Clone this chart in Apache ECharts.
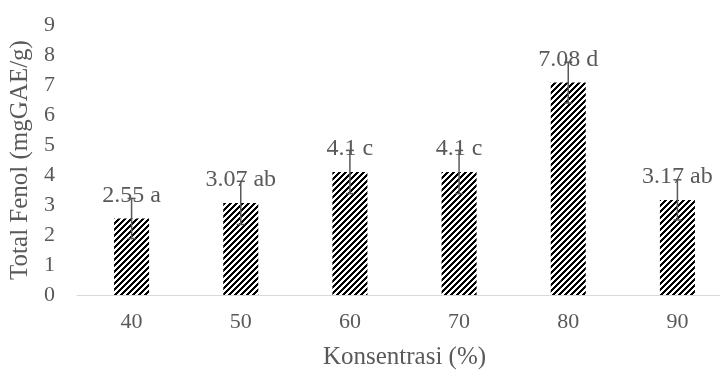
<!DOCTYPE html>
<html>
<head>
<meta charset="utf-8">
<script src="https://cdn.jsdelivr.net/npm/echarts@6/dist/echarts.min.js"></script>
<style>
  html, body { margin: 0; padding: 0; background: #fff; }
  #chart { width: 720px; height: 379px; }
</style>
</head>
<body>
<div id="chart"></div>
<script>
// Ethanol concentration (%) and total phenol content (mg GAE/g)
const categories = ['40', '50', '60', '70', '80', '90'];
const totalFenol = [2.55, 3.07, 4.1, 4.1, 7.08, 3.17];
const errorSize = [0.67, 0.72, 0.72, 0.72, 0.68, 0.67];
const notation = ['a', 'ab', 'c', 'c', 'd', 'ab'];
const yTicks = { min: 0, max: 9, interval: 1 };

const FONT = 'Liberation Serif, Times New Roman, serif';
const TEXT = '#595959';

// Upward-diagonal hatch fill
function hatch() {
  const size = 6;
  const c = document.createElement('canvas');
  c.width = size; c.height = size;
  const ctx = c.getContext('2d');
  const img = ctx.createImageData(size, size);
  for (let y = 0; y < size; y++) {
    for (let x = 0; x < size; x++) {
      const k = (y * size + x) * 4;
      const dark = ((x + y) % size) < 3;
      const v = dark ? 0 : 255;
      img.data[k] = v; img.data[k + 1] = v; img.data[k + 2] = v; img.data[k + 3] = 255;
    }
  }
  ctx.putImageData(img, 0, 0);
  return { image: c, repeat: 'repeat' };
}

const chart = echarts.init(document.getElementById('chart'), null, { renderer: 'canvas' });

chart.setOption({
  animation: false,
  backgroundColor: '#ffffff',
  textStyle: { fontFamily: FONT },
  grid: { left: 77, top: 25, bottom: 84, width: 655, containLabel: false, outerBoundsMode: 'none' },
  xAxis: {
    type: 'category',
    data: categories,
    name: 'Konsentrasi (%)',
    nameLocation: 'middle',
    nameGap: 50,
    nameTextStyle: { color: TEXT, fontSize: 25, fontFamily: FONT },
    axisTick: { show: false },
    axisLine: { lineStyle: { color: '#d9d9d9', width: 1 } },
    axisLabel: { color: TEXT, fontSize: 22, fontFamily: FONT, margin: 16 }
  },
  yAxis: {
    type: 'value',
    min: yTicks.min,
    max: yTicks.max,
    interval: yTicks.interval,
    name: 'Total Fenol (mgGAE/g)',
    nameLocation: 'middle',
    nameRotate: 90,
    nameGap: 42,
    nameTextStyle: { color: TEXT, fontSize: 25, fontFamily: FONT },
    splitLine: { show: false },
    axisLine: { show: false },
    axisTick: { show: false },
    axisLabel: { color: TEXT, fontSize: 22, fontFamily: FONT, margin: 22 }
  },
  series: [
    {
      type: 'bar',
      data: totalFenol,
      barWidth: 35,
      itemStyle: { color: hatch() },
      label: {
        show: true,
        position: 'top',
        distance: 11,
        color: TEXT,
        fontSize: 24,
        fontFamily: FONT,
        formatter: p => p.value + ' ' + notation[p.dataIndex]
      },
      z: 2
    },
    {
      type: 'custom',
      z: 10,
      data: totalFenol.map((v, i) => [i, v, errorSize[i]]),
      renderItem: function (params, api) {
        const i = api.value(0);
        const v = api.value(1);
        const e = api.value(2);
        const hi = api.coord([i, v + e]);
        const lo = api.coord([i, v - e]);
        const cap = 4;
        const style = { stroke: '#595959', lineWidth: 1.5 };
        return {
          type: 'group',
          children: [
            { type: 'line', shape: { x1: hi[0], y1: hi[1], x2: lo[0], y2: lo[1] }, style },
            { type: 'line', shape: { x1: hi[0] - cap, y1: hi[1], x2: hi[0] + cap, y2: hi[1] }, style },
            { type: 'line', shape: { x1: lo[0] - cap, y1: lo[1], x2: lo[0] + cap, y2: lo[1] }, style }
          ]
        };
      }
    }
  ]
});
</script>
</body>
</html>
